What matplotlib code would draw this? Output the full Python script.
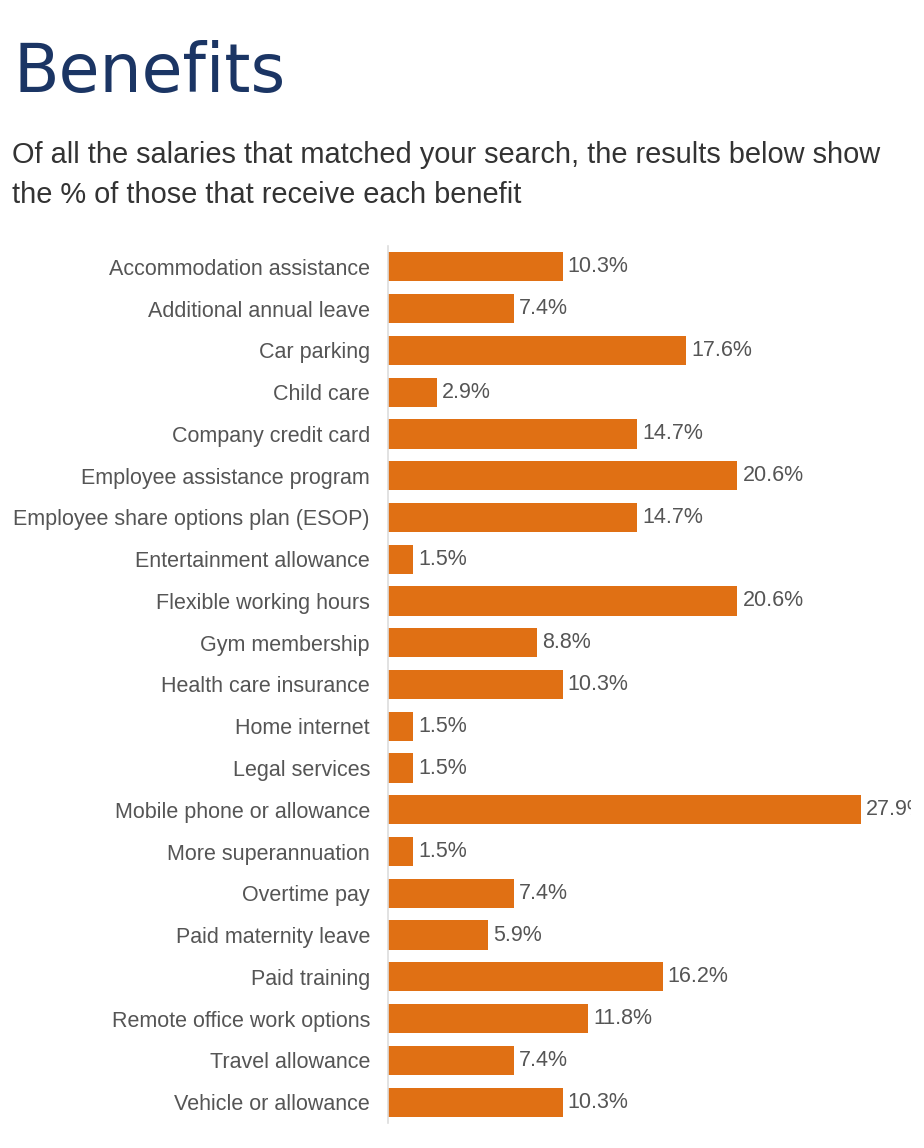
import matplotlib.pyplot as plt

benefits = [
    'Accommodation assistance', 'Additional annual leave', 'Car parking',
    'Child care', 'Company credit card', 'Employee assistance program',
    'Employee share options plan (ESOP)', 'Entertainment allowance',
    'Flexible working hours', 'Gym membership', 'Health care insurance',
    'Home internet', 'Legal services', 'Mobile phone or allowance',
    'More superannuation', 'Overtime pay', 'Paid maternity leave',
    'Paid training', 'Remote office work options', 'Travel allowance',
    'Vehicle or allowance',
]
percent = [10.3, 7.4, 17.6, 2.9, 14.7, 20.6, 14.7, 1.5, 20.6, 8.8, 10.3,
           1.5, 1.5, 27.9, 1.5, 7.4, 5.9, 16.2, 11.8, 7.4, 10.3]

W, H = 924, 1148
fig = plt.figure(figsize=(W / 100, H / 100), dpi=100)
fig.patch.set_facecolor('white')

# title and subtitle
fig.text(13 / W, 1 - 92 / H, 'Benefits', fontsize=48, color='#1b3564',
         family='DejaVu Sans', ha='left', va='baseline')
fig.text(12 / W, 1 - 163 / H, 'Of all the salaries that matched your search, the results below show',
         fontsize=20.9, color='#333333', family='Liberation Sans', va='baseline')
fig.text(12 / W, 1 - 203 / H, 'the % of those that receive each benefit',
         fontsize=20.9, color='#333333', family='Liberation Sans', va='baseline')

# axes: left edge at the gray axis line, right edge where the page cuts labels
left, right = 388, 910.5
top, bottom = 246, 1123
ax = fig.add_axes([left / W, 1 - bottom / H, (right - left) / W, (bottom - top) / H])
ax.set_xlim(0, (right - left) / 16.96)
ax.set_ylim(len(benefits) - 0.5, -0.5)

y = list(range(len(benefits)))
ax.barh(y, percent, height=0.7, color='#e07014')

for i, v in enumerate(percent):
    ax.text(v + 0.3, i, f'{v}%', va='center', ha='left', fontsize=15.5,
            color='#555555', family='Liberation Sans', clip_on=True)

ax.set_yticks(y)
ax.set_yticklabels(benefits, fontsize=15.5, color='#555555', family='Liberation Sans')
ax.tick_params(axis='y', length=0, pad=13)
ax.set_xticks([])
for s in ['top', 'right', 'bottom']:
    ax.spines[s].set_visible(False)
ax.spines['left'].set_color('#dddddd')
ax.spines['left'].set_linewidth(1.2)
ax.patch.set_alpha(0)

fig.savefig('out.png', dpi=100)
